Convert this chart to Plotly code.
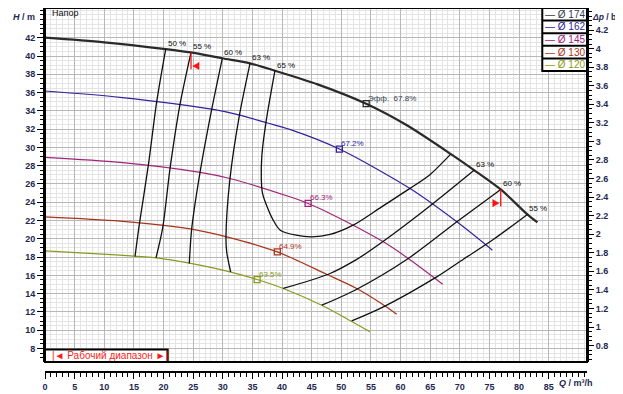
import numpy as np
import plotly.graph_objects as go

# ---------------- data ----------------
# Pump head curves: Q in m3/h, H in m
d174_q = [0, 10, 20.4, 24.6, 29.9, 34.6, 38.8, 46, 54.2, 61, 68.5, 72.4, 76.9, 81.4, 83.1]
d174_h = [42.0, 41.5, 40.76, 40.40, 39.75, 39.2, 38.39, 36.9, 34.78, 32.45, 29.27, 27.52, 25.4, 22.67, 21.79]
d162_q = [0, 12.66, 28.4, 32.9, 37.4, 41.3, 49.67, 61.6, 69.5, 75.5]
d162_h = [36.17, 35.48, 34.16, 33.54, 32.7, 31.97, 29.82, 25.5, 21.86, 18.76]
d145_q = [0, 12.66, 26.2, 31.2, 41.3, 44.4, 48.1, 57.1, 61.3, 67.1]
d145_h = [28.91, 28.36, 27.27, 26.6, 24.6, 23.87, 22.78, 19.67, 17.85, 15.04]
d130_q = [0, 12.66, 24.75, 30.66, 39.2, 47.5, 52.6, 57.2, 59.35]
d130_h = [22.41, 21.94, 21.06, 20.22, 18.57, 16.13, 14.57, 12.74, 11.76]
d120_q = [0, 12.66, 18.8, 24.36, 31.2, 35.8, 40.2, 46.7, 51.6, 54.8]
d120_h = [18.69, 18.22, 17.92, 17.34, 16.39, 15.55, 14.57, 12.74, 11.02, 9.85]

impellers = ["Ø 174", "Ø 162", "Ø 145", "Ø 130", "Ø 120"]
bep_q = [54.2, 49.67, 44.4, 39.2, 35.8]
bep_h = [34.78, 29.82, 23.87, 18.57, 15.55]
bep_text = ["Эфф.  67.8%", "67.2%", "66.3%", "64.9%", "63.5%"]

# Iso-efficiency lines
eff50_q = [20.37, 18.85, 17.43, 15.9, 15.19]
eff50_h = [40.76, 35.0, 28.0, 21.5, 18.07]
eff55l_q = [24.64, 22.78, 21.1, 19.86, 18.73]
eff55l_h = [40.40, 34.71, 27.7, 21.2, 17.92]
eff60l_q = [29.92, 28.13, 26.16, 24.75, 24.35]
eff60l_h = [39.75, 34.16, 27.27, 21.06, 17.31]
eff63l_q = [34.6, 32.79, 31.22, 30.54, 30.66, 31.33]
eff63l_h = [39.2, 33.46, 26.61, 20.22, 18.57, 16.39]
eff65_q = [38.8, 37.29, 36.6, 36.5, 36.7, 37.3, 38.5, 39.7, 42.4, 45.0, 48.1, 52.0, 56.8, 61.6, 65.0, 68.46]
eff65_h = [38.39, 32.74, 29.16, 26.61, 25.0, 23.8, 22.05, 20.95, 20.4, 20.22, 20.48, 21.5, 23.5, 25.52, 27.05, 29.27]
eff63r_q = [40.2, 48.1, 52.6, 56.8, 65.5, 72.45]
eff63r_h = [14.57, 16.21, 17.75, 19.6, 23.87, 27.52]
eff60r_q = [46.7, 52.3, 61.3, 69.5, 76.9]
eff60r_h = [12.74, 14.38, 17.85, 21.86, 25.4]
eff55r_q = [51.75, 57.1, 66.1, 70.6, 75.65, 81.4]
eff55r_h = [11.02, 12.56, 15.84, 17.77, 19.93, 22.67]

left_labels = ["50 %", "55 %", "60 %", "63 %", "65 %"]
right_labels = ["63 %", "60 %", "55 %"]

work_range = [24.64, 76.9]

q_ticks = list(range(0, 90, 5))
h_ticks = list(range(8, 44, 2))
dp_ticks = [round(0.8 + 0.2 * i, 1) for i in range(18)]

# ---------------- styling ----------------
FONT = "Liberation Sans, Arial, sans-serif"
NAVY = "#1e2750"
curve_colors = ["#2a2a2a", "#33229e", "#a0257a", "#a8341c", "#8a9a1e"]
text_colors = ["#2f3d4c", "#2a1f9e", "#a0207a", "#b0301a", "#8a9a14"]
curve_widths = [2.2, 1.2, 1.2, 1.2, 1.2]

curves = [(d174_q, d174_h), (d162_q, d162_h), (d145_q, d145_h), (d130_q, d130_h), (d120_q, d120_h)]

fig = go.Figure()

for (q, h), col, w, name in zip(curves, curve_colors, curve_widths, impellers):
    fig.add_trace(go.Scatter(x=q, y=h, mode="lines", name=name, showlegend=False,
                             line=dict(color=col, width=w, shape="spline", smoothing=0.8),
                             hoverinfo="skip"))

contours = [(eff50_q, eff50_h), (eff55l_q, eff55l_h), (eff60l_q, eff60l_h), (eff63l_q, eff63l_h),
            (eff65_q, eff65_h), (eff63r_q, eff63r_h), (eff60r_q, eff60r_h), (eff55r_q, eff55r_h)]
for q, h in contours:
    fig.add_trace(go.Scatter(x=q, y=h, mode="lines", showlegend=False, hoverinfo="skip",
                             line=dict(color="#111111", width=1.3, shape="spline", smoothing=0.8)))

# best efficiency points
for q, h, col in zip(bep_q, bep_h, curve_colors):
    fig.add_trace(go.Scatter(x=[q], y=[h], mode="markers", showlegend=False, hoverinfo="skip",
                             marker=dict(symbol="square-open", size=6, color=col, line=dict(width=1.3))))

# secondary axis holder
fig.add_trace(go.Scatter(x=[None], y=[None], yaxis="y2", showlegend=False, hoverinfo="skip"))

ann = []
# contour labels at Ø174 end points
left_ends = [(c[0][0], c[1][0]) for c in contours[:5]]
right_ends = [(c[0][-1], c[1][-1]) for c in contours[5:]]
for (q, h), t in zip(left_ends + right_ends, left_labels + right_labels):
    ann.append(dict(x=q, y=h, xref="x", yref="y", text=t, showarrow=False, xanchor="left",
                    yanchor="bottom", yshift=-1, font=dict(family=FONT, size=8, color="#111")))
for q, h, t, col in zip(bep_q, bep_h, bep_text, text_colors):
    ann.append(dict(x=q, y=h, xref="x", yref="y", text=t, showarrow=False, xanchor="left",
                    yanchor="bottom", yshift=-1, font=dict(family=FONT, size=8, color=col)))

shapes = []
# working range flags on Ø174
for i, wq in enumerate(work_range):
    wh = float(np.interp(wq, d174_q, d174_h))
    s = 1 if i == 0 else -1
    shapes.append(dict(type="line", xref="x", yref="y", x0=wq, x1=wq, y0=wh, y1=wh - 1.85,
                       line=dict(color="#ff1010", width=1.3)))
    tip = wq + s * 0.3
    base = wq + s * 1.35
    shapes.append(dict(type="path", xref="x", yref="y",
                       path=f"M {tip} {wh-1.5} L {base} {wh-1.1} L {base} {wh-1.88} Z",
                       fillcolor="#ff1010", line=dict(color="#ff1010", width=0.5)))

Y0 = 0.0275
# outer frame
shapes.append(dict(type="rect", xref="paper", yref="paper", x0=0, x1=1, y0=Y0, y1=1,
                   line=dict(color="black", width=2)))
# working-range box
shapes.append(dict(type="rect", xref="x", yref="y", x0=0, x1=20.7, y0=6.53, y1=7.89,
                   fillcolor="white", line=dict(color="black", width=2)))
ann.append(dict(x=10.9, y=7.2, xref="x", yref="y", text="|◄ Рабочий диапазон ►|", showarrow=False,
                font=dict(family=FONT, size=10, color="#ff1a1a")))

# legend boxes
lx0, lx1 = 0.9175, 1.0
ltop, lbot = 1.0, 0.827
rh = (ltop - lbot) / 5
shapes.append(dict(type="rect", xref="paper", yref="paper", x0=lx0, x1=lx1, y0=lbot, y1=ltop,
                   fillcolor="white", line=dict(color="black", width=2)))
for i, (name, col) in enumerate(zip(impellers, text_colors)):
    if i > 0:
        yy = ltop - i * rh
        shapes.append(dict(type="line", xref="paper", yref="paper", x0=lx0, x1=lx1, y0=yy, y1=yy,
                           line=dict(color="black", width=2)))
    ann.append(dict(x=(lx0 + lx1) / 2, y=ltop - (i + 0.5) * rh, xref="paper", yref="paper",
                    text="— " + name, showarrow=False, xanchor="center", yanchor="middle",
                    font=dict(family=FONT, size=10, color=col)))

# axis titles and headers
ann.append(dict(x=0.0092, y=0.9854, xref="paper", yref="paper", text="Напор", showarrow=False,
                xanchor="left", yanchor="middle", font=dict(family=FONT, size=9, color="#111")))
ann.append(dict(x=-0.0153, y=0.976, xref="paper", yref="paper", text="<b><i>H</i> / m</b>",
                showarrow=False, xanchor="right", yanchor="middle", font=dict(family=FONT, size=9, color=NAVY)))
ann.append(dict(x=1.0065, y=0.976, xref="paper", yref="paper", text="<b><i>Δp</i> / b</b>",
                showarrow=False, xanchor="left", yanchor="middle", borderpad=0,
                font=dict(family=FONT, size=8.5, color=NAVY)))
ann.append(dict(x=0.944, y=-0.031, xref="paper", yref="paper", text="<b><i>Q</i> / m³/h</b>",
                showarrow=False, xanchor="left", yanchor="middle", font=dict(family=FONT, size=9, color=NAVY)))

tickfont = dict(family=FONT, size=9, color=NAVY, weight="bold")

# page body has an 8px default margin: figure is sized/offset to compensate
fig.update_layout(
    width=615, height=386,
    margin=dict(l=37, r=36, t=0, b=22, pad=0, autoexpand=False),
    paper_bgcolor="white", plot_bgcolor="white",
    showlegend=False,
    font=dict(family=FONT),
    xaxis=dict(range=[0, 91.46], anchor="free", position=0, tickmode="array", tickvals=q_ticks,
               automargin=False,
               ticks="outside", ticklen=6, tickwidth=1, tickcolor="black", tickfont=tickfont,
               showline=True, linecolor="black", linewidth=1.5, zeroline=False,
               showgrid=True, gridcolor="#b8b8b8", gridwidth=1,
               minor=dict(tickmode="linear", tick0=0, dtick=1, ticks="outside", ticklen=4,
                          tickcolor="black", showgrid=True, gridcolor="#e4e4e4", gridwidth=1)),
    yaxis=dict(range=[6.53, 45.25], domain=[Y0, 1], tickmode="array", tickvals=h_ticks,
               automargin=False,
               ticks="outside", ticklen=6, tickwidth=1, tickcolor="black", tickfont=tickfont,
               showline=True, linecolor="black", linewidth=2, zeroline=False,
               showgrid=True, gridcolor="#b8b8b8", gridwidth=1,
               minor=dict(tickmode="linear", tick0=0, dtick=0.5, ticks="outside", ticklen=3,
                          tickcolor="black", showgrid=True, gridcolor="#e4e4e4", gridwidth=1)),
    yaxis2=dict(range=[0.623, 4.438], overlaying="y", side="right", anchor="x", tickmode="array",
                automargin=False,
                tickvals=dp_ticks, ticktext=[f"{v:g}" for v in dp_ticks],
                ticks="outside", ticklen=5, tickwidth=1, tickcolor="black", tickfont=tickfont,
                showline=True, linecolor="black", linewidth=2, zeroline=False, showgrid=False,
                minor=dict(tickmode="linear", tick0=0, dtick=0.05, ticks="outside", ticklen=3,
                           tickcolor="black", showgrid=False)),
    shapes=shapes,
    annotations=ann,
)

fig.write_html("out.html")
